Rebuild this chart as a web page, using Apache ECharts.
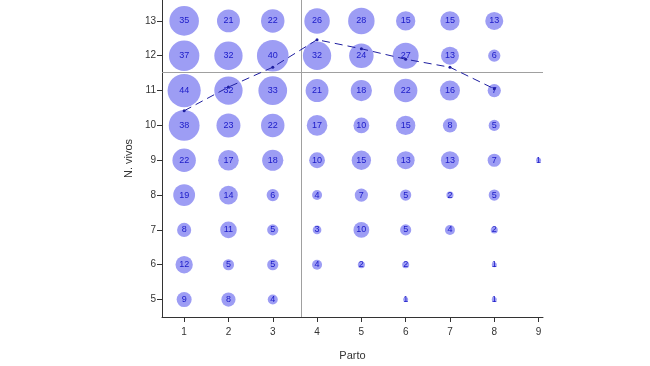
<!DOCTYPE html>
<html><head><meta charset="utf-8">
<script src="https://cdn.jsdelivr.net/npm/echarts@6/dist/echarts.min.js"></script>
<style>html,body{margin:0;padding:0;background:#fff}#c{width:650px;height:366px}</style>
</head><body><div id="c"></div>
<script>
var partoTicks = [1,2,3,4,5,6,7,8,9];
var vivosTicks = [5,6,7,8,9,10,11,12,13];
var vivosRows = [13,12,11,10,9,8,7,6,5];
var countsParto1 = [35,37,44,38,22,19,8,12,9];
var countsParto2 = [21,32,32,23,17,14,11,5,8];
var countsParto3 = [22,40,33,22,18,6,5,5,4];
var countsParto4 = [26,32,21,17,10,4,3,4,null];
var countsParto5 = [28,24,18,10,15,7,10,2,null];
var countsParto6 = [15,27,22,15,13,5,5,2,1];
var countsParto7 = [15,13,16,8,13,2,4,null,null];
var countsParto8 = [13,6,7,5,7,5,2,1,1];
var countsParto9 = [null,null,null,null,1,null,null,null,null];
var meanParto = [1,2,3,4,5,6,7,8];
var meanVivos = [10.42,11.1,11.67,12.46,12.2,11.9,11.67,11.05];
var refParto = 3.64;
var refVivos = 11.52;

var cols = [countsParto1,countsParto2,countsParto3,countsParto4,countsParto5,countsParto6,countsParto7,countsParto8,countsParto9];
var bubbles = [];
cols.forEach(function(col, i){
  col.forEach(function(n, j){
    if (n != null) bubbles.push([partoTicks[i], vivosRows[j], n]);
  });
});
var meanData = meanParto.map(function(p,i){return [p, meanVivos[i]];});

var font = 'Liberation Sans, Arial, sans-serif';
var chart = echarts.init(document.getElementById('c'));
chart.setOption({
  animation: false,
  backgroundColor: '#fff',
  grid: {left: 162, right: 107, top: 0, bottom: 46},
  xAxis: {
    type: 'value', min: 0.5, max: 9.1,
    name: 'Parto', nameLocation: 'middle', nameGap: 33,
    nameTextStyle: {color: '#333', fontSize: 11, fontFamily: font},
    axisLine: {show: true, onZero: false, lineStyle: {color: '#333', width: 1}},
    axisTick: {show: true, length: 5, customValues: partoTicks, lineStyle: {color: '#333'}},
    axisLabel: {customValues: partoTicks, color: '#333', fontSize: 10, fontFamily: font, margin: 10},
    splitLine: {show: false}
  },
  yAxis: {
    type: 'value', min: 4.5, max: 13.6,
    name: 'N. vivos', nameLocation: 'middle', nameGap: 22,
    nameTextStyle: {color: '#333', fontSize: 11, fontFamily: font},
    axisLine: {show: true, onZero: false, lineStyle: {color: '#333', width: 1}},
    axisTick: {show: true, length: 5, customValues: vivosTicks, lineStyle: {color: '#333'}},
    axisLabel: {customValues: vivosTicks, color: '#333', fontSize: 10, fontFamily: font, margin: 6},
    splitLine: {show: false}
  },
  series: [
    {
      type: 'scatter', data: bubbles, z: 2,
      symbolSize: function(v){ return 5*Math.sqrt(v[2]); },
      itemStyle: {color: '#9d9df4', opacity: 1},
      label: {show: true, position: 'inside', formatter: function(p){return p.value[2];},
        color: '#1a1ac8', fontSize: 9, fontFamily: font},
      markLine: {
        silent: true, symbol: 'none', label: {show: false},
        lineStyle: {color: '#a0a0a0', type: 'solid', width: 1},
        data: [{xAxis: refParto}, {yAxis: refVivos}]
      }
    },
    {
      type: 'line', data: meanData, z: 5,
      symbol: 'circle', symbolSize: 3, showSymbol: true,
      lineStyle: {color: '#1e1ea0', width: 1, type: [8,5]},
      itemStyle: {color: '#1e1ea0'}
    }
  ]
});
</script></body></html>
